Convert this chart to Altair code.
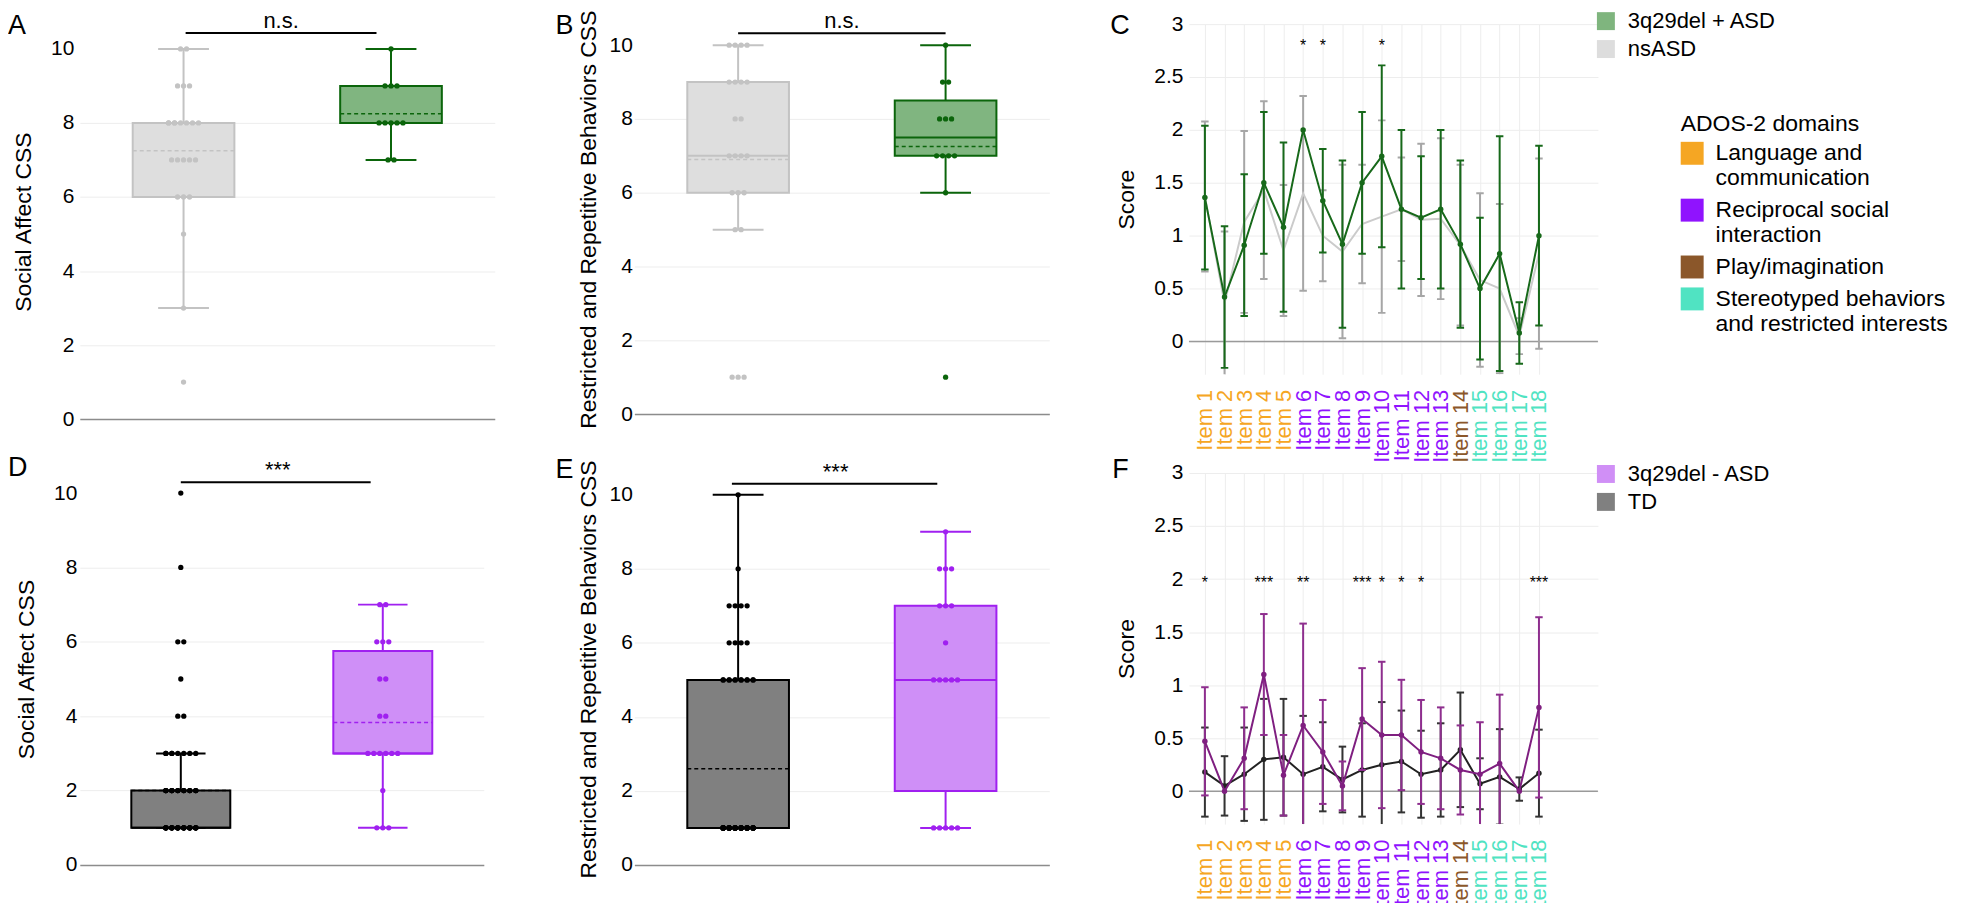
import json
import altair as alt
import pandas as pd

FONT = "Liberation Sans"

# ------------------------------------------------------------------
# Box-plot panels (A, B, D, E)
# ------------------------------------------------------------------
TOP_GROUPS = ["nsASD", "3q29del + ASD"]
BOTTOM_GROUPS = ["TD", "3q29del - ASD"]

# individual CSS scores (score value, number of subjects with it)
A_NSASD_SCORES = [10, 9, 8, 7, 6, 5, 3, 1]
A_NSASD_COUNTS = [2, 3, 8, 5, 3, 1, 1, 1]
A_ASD_SCORES = [10, 9, 8, 7]
A_ASD_COUNTS = [1, 3, 5, 2]

B_NSASD_SCORES = [10, 9, 8, 7, 6, 5, 1]
B_NSASD_COUNTS = [4, 4, 2, 4, 3, 2, 3]
B_ASD_SCORES = [10, 9, 8, 7, 6, 1]
B_ASD_COUNTS = [1, 2, 3, 4, 1, 1]

D_TD_SCORES = [10, 8, 6, 5, 4, 3, 2, 1]
D_TD_COUNTS = [1, 1, 2, 1, 2, 8, 20, 36]
D_DEL_SCORES = [7, 6, 5, 4, 3, 2, 1]
D_DEL_COUNTS = [2, 3, 2, 2, 6, 1, 3]

E_TD_SCORES = [10, 8, 7, 6, 5, 1]
E_TD_COUNTS = [1, 1, 4, 4, 12, 45]
E_DEL_SCORES = [9, 8, 7, 6, 5, 1]
E_DEL_COUNTS = [1, 3, 3, 1, 5, 5]

# box statistics: lower whisker, Q1, median, Q3, upper whisker, mean
A_NSASD_BOX = [3, 6, 8, 8, 10, 7.25]
A_ASD_BOX = [7, 8, 8, 9, 10, 8.25]
B_NSASD_BOX = [5, 6, 7, 9, 10, 6.9]
B_ASD_BOX = [6, 7, 7.5, 8.5, 10, 7.25]
D_TD_BOX = [1, 1, 1, 2, 3, 2.0]
D_DEL_BOX = [1, 3, 3, 5.75, 7, 3.83]
E_TD_BOX = [1, 1, 1, 5, 10, 2.6]
E_DEL_BOX = [1, 2, 5, 7, 9, 5.0]

# significance annotation: label, bar from, bar to (group index), bar level, label x, label baseline
A_SIG = ["n.s.", 0.01, 0.93, 10.43, 0.47, 10.57]
B_SIG = ["n.s.", 0.0, 1.0, 10.32, 0.50, 10.46]
D_SIG = ["***", 0.0, 0.94, 10.29, 0.48, 10.43]
E_SIG = ["***", -0.03, 0.96, 10.30, 0.47, 10.43]

# ------------------------------------------------------------------
# ADOS-2 item panels (C, F)
# ------------------------------------------------------------------
ITEMS = list(range(1, 19))
DOMAINS = [
    "Language and communication",
    "Reciprocal social interaction",
    "Play/imagination",
    "Stereotyped behaviors and restricted interests",
]
DOMAIN_LINES = {
    "Language and communication": ["Language and", "communication"],
    "Reciprocal social interaction": ["Reciprocal social", "interaction"],
    "Play/imagination": ["Play/imagination"],
    "Stereotyped behaviors and restricted interests": ["Stereotyped behaviors", "and restricted interests"],
}
ITEM_DOMAIN = [DOMAINS[0]] * 5 + [DOMAINS[1]] * 8 + [DOMAINS[2]] + [DOMAINS[3]] * 4

C_ASD_MEAN = [1.36, 0.42, 0.91, 1.50, 1.08, 2.00, 1.33, 0.92, 1.50, 1.75, 1.25, 1.17, 1.25, 0.92, 0.50, 0.83, 0.08, 1.00]
C_ASD_SD = [0.68, 0.67, 0.67, 0.67, 0.80, 0.00, 0.49, 0.79, 0.67, 0.86, 0.75, 0.58, 0.75, 0.79, 0.67, 1.11, 0.29, 0.85]
C_NSASD_MEAN = [1.37, 0.36, 1.13, 1.43, 0.86, 1.40, 1.00, 0.85, 1.11, 1.18, 1.25, 1.15, 1.16, 0.91, 0.58, 0.50, 0.05, 0.83]
C_NSASD_SD = [0.71, 0.68, 0.86, 0.84, 0.62, 0.92, 0.43, 0.82, 0.56, 0.91, 0.49, 0.72, 0.76, 0.76, 0.82, 0.80, 0.17, 0.90]
C_STAR_ITEMS = [6, 7, 10]
C_STAR_LABELS = ["*", "*", "*"]
C_STAR_LEVEL = 2.745

F_DEL_MEAN = [0.47, 0.00, 0.31, 1.10, 0.15, 0.62, 0.37, 0.05, 0.68, 0.53, 0.53, 0.37, 0.31, 0.20, 0.16, 0.26, 0.00, 0.79]
F_DEL_SD = [0.51, 0.00, 0.48, 0.57, 0.38, 0.96, 0.49, 0.23, 0.48, 0.69, 0.52, 0.49, 0.48, 0.42, 0.49, 0.65, 0.00, 0.85]
F_TD_MEAN = [0.18, 0.05, 0.16, 0.30, 0.32, 0.16, 0.23, 0.11, 0.20, 0.25, 0.28, 0.16, 0.20, 0.39, 0.07, 0.135, 0.02, 0.17]
F_TD_SD = [0.42, 0.28, 0.44, 0.57, 0.55, 0.55, 0.42, 0.31, 0.44, 0.59, 0.48, 0.41, 0.44, 0.54, 0.24, 0.45, 0.11, 0.41]
F_STAR_ITEMS = [1, 4, 6, 9, 10, 11, 12, 18]
F_STAR_LABELS = ["*", "***", "**", "***", "*", "*", "*", "***"]
F_STAR_LEVEL = 1.92

# ------------------------------------------------------------------
# styles
# ------------------------------------------------------------------
GRID = "#EDEDED"
DOMAIN_COLORS = ["#F5A623", "#9013FE", "#8B572A", "#50E3C2"]


def letter_layer(letter, lx, ly):
    return alt.Chart(pd.DataFrame({"t": [letter]})).mark_text(
        font=FONT, fontSize=27, align="left", baseline="top", color="black"
    ).encode(text="t:N", x=alt.value(lx), y=alt.value(ly))


def box_panel(letter, groups, scores, counts, boxes, stroke_cols, fill_cols, sig, ytitle,
              width, height, ymax, label_pad, title_pad, lx, ly):
    ppu = width / 2.0
    half_box, half_cap = 0.245, 0.1225
    srows = []
    for i, (g, b) in enumerate(zip(groups, boxes)):
        lo, q1, med, q3, hi, mean = b
        srows.append(dict(grp=g, xi=i, lo=lo, q1=q1, med=med, q3=q3, hi=hi, mean=mean,
                          bx0=i - half_box, bx1=i + half_box, cx0=i - half_cap, cx1=i + half_cap))
    stats = pd.DataFrame(srows)
    prows = []
    for i, g in enumerate(groups):
        for s, c in zip(scores[i], counts[i]):
            ncol = min(c, 6)
            for r in range(c):
                col = r % ncol
                prows.append(dict(grp=g, score=s, xp=i + (col - (ncol - 1) / 2.0) * 6.0 / ppu))
    pts = pd.DataFrame(prows)
    sig_df = pd.DataFrame([dict(label=sig[0], x1=sig[1], x2=sig[2], yb=sig[3], tx=sig[4], ty=sig[5])])

    xs = alt.Scale(domain=[-0.5, 1.5], nice=False, zero=False)
    ys = alt.Scale(domain=[0, ymax], nice=False, zero=False)
    xaxis = alt.Axis(title=None, labels=False, ticks=False, grid=False, domain=True,
                     domainColor="#8C8C8C", domainWidth=1.5)
    yaxis = alt.Axis(title=ytitle, values=[0, 2, 4, 6, 8, 10], domain=False, ticks=False, tickSize=0,
                     labelFontSize=21, labelPadding=label_pad, titleFontSize=23, titleFontWeight="normal",
                     titlePadding=title_pad, grid=True,
                     gridColor={"expr": "datum.value >= 10 ? 'rgba(0,0,0,0)' : '" + GRID + "'"})

    def X(f):
        return alt.X(f, type="quantitative", scale=xs, axis=xaxis)

    def Y(f):
        return alt.Y(f, type="quantitative", scale=ys, axis=yaxis)

    col = alt.Color("grp:N", scale=alt.Scale(domain=groups, range=stroke_cols), legend=None)
    stk = alt.Stroke("grp:N", scale=alt.Scale(domain=groups, range=stroke_cols), legend=None)
    fil = alt.Fill("grp:N", scale=alt.Scale(domain=groups, range=fill_cols), legend=None)

    base = alt.Chart(stats)
    layers = [
        base.mark_rule(strokeWidth=2).encode(x=X("xi"), y=Y("lo"), y2="q1", color=col),
        base.mark_rule(strokeWidth=2).encode(x=X("xi"), y=Y("q3"), y2="hi", color=col),
        base.mark_rule(strokeWidth=2).encode(x=X("cx0"), x2="cx1", y=Y("lo"), color=col),
        base.mark_rule(strokeWidth=2).encode(x=X("cx0"), x2="cx1", y=Y("hi"), color=col),
        base.mark_rect(strokeWidth=2, fillOpacity=1).encode(x=X("bx0"), x2="bx1", y=Y("q1"), y2="q3",
                                                           fill=fil, stroke=stk),
        base.mark_rule(strokeWidth=2).encode(x=X("bx0"), x2="bx1", y=Y("med"), color=col),
        base.mark_rule(strokeWidth=1.5, strokeDash=[4, 3]).encode(x=X("bx0"), x2="bx1", y=Y("mean"), color=col),
        alt.Chart(pts).mark_circle(size=28, opacity=1).encode(x=X("xp"), y=Y("score"), color=col),
        alt.Chart(sig_df).mark_rule(color="black", strokeWidth=2).encode(x=X("x1"), x2="x2", y=Y("yb")),
        alt.Chart(sig_df).mark_text(font=FONT, fontSize=22, baseline="alphabetic", align="center",
                                    color="black").encode(x=X("tx"), y=Y("ty"), text="label:N"),
        letter_layer(letter, lx, ly),
    ]
    return alt.layer(*layers).properties(width=width, height=height)


def line_panel(letter, draw_groups, means, sds, line_cols, err_cols, dot_groups,
               star_items, star_labels, star_level, legend_groups, legend_cols, legend_y,
               domain_legend, lx, ly, height):
    rows = []
    for g, ms, ss in zip(draw_groups, means, sds):
        for it, m, s in zip(ITEMS, ms, ss):
            rows.append(dict(item=it, grp=g, mean=m, lo=m - s, hi=m + s, cx0=it - 0.19, cx1=it + 0.19))
    df = pd.DataFrame(rows)
    stars = pd.DataFrame(dict(item=star_items, label=star_labels, sy=[star_level] * len(star_items)))
    item_colors = [DOMAIN_COLORS[DOMAINS.index(d)] for d in ITEM_DOMAIN]
    color_expr = json.dumps(item_colors).replace('"', "'") + "[datum.value - 1]"

    xs = alt.Scale(domain=[0.19, 21.0], nice=False, zero=False)
    ys = alt.Scale(domain=[-0.31, 3], nice=False, zero=False)
    xaxis = alt.Axis(title=None, values=ITEMS, labelExpr="'Item ' + datum.value", labelAngle=270,
                     labelAlign="right", labelBaseline="middle",
                     labelFontSize=22, labelColor={"expr": color_expr}, labelPadding=15, ticks=False,
                     tickSize=0, domain=False, grid=True, gridColor=GRID, labelOverlap=False,
                     labelFlush=False)
    yaxis = alt.Axis(title="Score", values=[0, 0.5, 1, 1.5, 2, 2.5, 3], format="~g", domain=False,
                     ticks=False, tickSize=0, labelFontSize=21, labelPadding=6, titleFontSize=23,
                     titleFontWeight="normal", titlePadding=15, grid=True, gridColor=GRID)

    def X(f):
        return alt.X(f, type="quantitative", scale=xs, axis=xaxis)

    def Y(f):
        return alt.Y(f, type="quantitative", scale=ys, axis=yaxis)

    col = alt.Color("grp:N", scale=alt.Scale(domain=draw_groups, range=line_cols), legend=None)
    stk = alt.Stroke("grp:N", scale=alt.Scale(domain=draw_groups, range=err_cols), legend=None)

    layers = [alt.Chart(pd.DataFrame({"z": [0]})).mark_rule(color="#9A9A9A", strokeWidth=1.5)
              .encode(y=Y("z"))]
    base = alt.Chart(df)
    for g in draw_groups:
        sub = base.transform_filter(alt.datum.grp == g)
        caps = sub.transform_filter("datum.hi > datum.lo")
        layers += [
            sub.mark_rule(strokeWidth=2, clip=True).encode(x=X("item"), y=Y("lo"), y2="hi", stroke=stk),
            caps.mark_rule(strokeWidth=2, clip=True).encode(x=X("cx0"), x2="cx1", y=Y("lo"), stroke=stk),
            caps.mark_rule(strokeWidth=2, clip=True).encode(x=X("cx0"), x2="cx1", y=Y("hi"), stroke=stk),
            sub.mark_line(strokeWidth=2, clip=True).encode(x=X("item"), y=Y("mean"), color=col),
        ]
        if g in dot_groups:
            layers.append(sub.mark_circle(size=30, opacity=1, clip=True)
                          .encode(x=X("item"), y=Y("mean"), color=col))
    layers.append(alt.Chart(stars).mark_text(font=FONT, fontSize=16, baseline="alphabetic",
                                             align="center", color="black")
                  .encode(x=X("item"), y=Y("sy"), text="label:N"))
    # group legend
    layers.append(alt.Chart(pd.DataFrame({"legend_group": legend_groups})).mark_square(size=0, opacity=1)
                  .encode(fill=alt.Fill("legend_group:N",
                                        scale=alt.Scale(domain=legend_groups, range=legend_cols),
                                        legend=alt.Legend(orient="none", legendX=407, legendY=legend_y,
                                                          title=None, symbolType="square", symbolSize=324,
                                                          symbolStrokeWidth=0, labelFontSize=22,
                                                          labelOffset=11, padding=0, rowPadding=6,
                                                          labelLimit=0, direction="vertical"))))
    if domain_legend:
        lines_expr = json.dumps(DOMAIN_LINES).replace('"', "'") + "[datum.label]"
        layers.append(alt.Chart(pd.DataFrame({"domain": ITEM_DOMAIN})).mark_square(size=0, opacity=1)
                      .encode(fill=alt.Fill("domain:N",
                                            scale=alt.Scale(domain=DOMAINS, range=DOMAIN_COLORS),
                                            legend=alt.Legend(orient="none", legendX=493, legendY=89,
                                                              title="ADOS-2 domains", titleFontSize=23,
                                                              titleFontWeight="normal", titlePadding=6,
                                                              titleLimit=0, symbolType="square",
                                                              symbolSize=529, symbolStrokeWidth=0,
                                                              labelFontSize=23, labelOffset=12,
                                                              labelExpr=lines_expr, padding=0,
                                                              rowPadding=8, labelLimit=0,
                                                              direction="vertical"))))
    layers.append(letter_layer(letter, lx, ly))
    return alt.layer(*layers).resolve_scale(fill="independent").properties(width=410, height=height)


SA = "Social Affect CSS"
RRB = "Restricted and Repetitive Behaviors CSS"

pA = box_panel("A", TOP_GROUPS, [A_NSASD_SCORES, A_ASD_SCORES], [A_NSASD_COUNTS, A_ASD_COUNTS],
               [A_NSASD_BOX, A_ASD_BOX], ["#C3C3C3", "#0B650B"], ["#DEDEDE", "#80B580"], A_SIG, SA,
               416, 396, 10.67, 6, 15, -72, -11)
pB = box_panel("B", TOP_GROUPS, [B_NSASD_SCORES, B_ASD_SCORES], [B_NSASD_COUNTS, B_ASD_COUNTS],
               [B_NSASD_BOX, B_ASD_BOX], ["#C3C3C3", "#0B650B"], ["#DEDEDE", "#80B580"], B_SIG, RRB,
               416, 391, 10.57, 2, 9, -79, -11)
pD = box_panel("D", BOTTOM_GROUPS, [D_TD_SCORES, D_DEL_SCORES], [D_TD_COUNTS, D_DEL_COUNTS],
               [D_TD_BOX, D_DEL_BOX], ["#000000", "#A020F0"], ["#808080", "#CF8FF7"], D_SIG, SA,
               405, 393, 10.54, 3, 15, -72, -18)
pE = box_panel("E", BOTTOM_GROUPS, [E_TD_SCORES, E_DEL_SCORES], [E_TD_COUNTS, E_DEL_COUNTS],
               [E_TD_BOX, E_DEL_BOX], ["#000000", "#A020F0"], ["#808080", "#CF8FF7"], E_SIG, RRB,
               416, 393, 10.59, 2, 9, -79, -16)

pC = line_panel("C", TOP_GROUPS, [C_NSASD_MEAN, C_ASD_MEAN], [C_NSASD_SD, C_ASD_SD],
                ["#CBCBCB", "#17691A"], ["#A6A6A6", "#17691A"], ["3q29del + ASD"],
                C_STAR_ITEMS, C_STAR_LABELS, C_STAR_LEVEL,
                ["3q29del + ASD", "nsASD"], ["#7FB57E", "#DDDDDD"], -14, True, -79, -11, 351)
pF = line_panel("F", BOTTOM_GROUPS, [F_TD_MEAN, F_DEL_MEAN], [F_TD_SD, F_DEL_SD],
                ["#222222", "#7F1F80"], ["#333333", "#8E2E8E"], ["TD", "3q29del - ASD"],
                F_STAR_ITEMS, F_STAR_LABELS, F_STAR_LEVEL,
                ["3q29del - ASD", "TD"], ["#D08FF6", "#808080"], -10, False, -77, -16, 352)

chart = alt.concat(
    pA, pB, pC, pD, pE, pF, columns=3, spacing={"row": 54, "column": 140}, bounds="flush"
).resolve_scale(
    color="independent", fill="independent", stroke="independent"
).properties(
    padding={"left": 0, "top": 0, "right": 5, "bottom": 0}
).configure(
    font=FONT
).configure_view(
    stroke=None
).configure_axis(
    labelFont=FONT, titleFont=FONT, labelColor="black", titleColor="black"
).configure_legend(
    labelFont=FONT, titleFont=FONT, labelColor="black", titleColor="black"
)

chart.save("out.html", embed_options={"renderer": "svg", "actions": False})
